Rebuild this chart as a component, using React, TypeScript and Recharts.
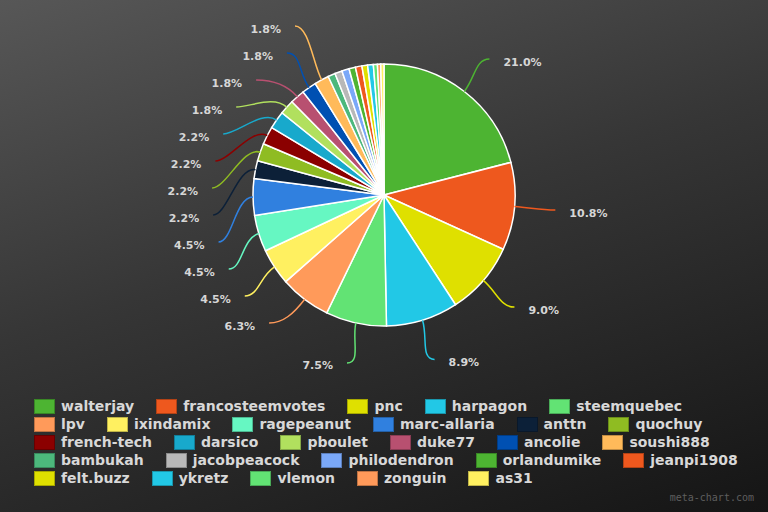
import { PieChart, Pie, Cell } from "recharts";

const names = [
  "walterjay", "francosteemvotes", "pnc", "harpagon", "steemquebec",
  "lpv", "ixindamix", "ragepeanut", "marc-allaria", "anttn", "quochuy",
  "french-tech", "darsico", "pboulet", "duke77", "ancolie", "soushi888",
  "bambukah", "jacobpeacock", "philodendron", "orlandumike", "jeanpi1908",
  "felt.buzz", "ykretz", "vlemon", "zonguin", "as31",
];

const shares = [
  21.0, 10.8, 9.0, 8.9, 7.5,
  6.3, 4.5, 4.5, 4.5, 2.2, 2.2,
  2.2, 2.2, 1.8, 1.8, 1.8, 1.8,
  0.9, 0.9, 0.9, 0.8, 0.8,
  0.7, 0.7, 0.5, 0.4, 0.4,
];

const colors = [
  "#4db432", "#ee581e", "#dfe000", "#22c8e6", "#62e374",
  "#ff9a5a", "#fff060", "#66f7c2", "#3080df", "#0c2038", "#8fbc22",
  "#8b0000", "#18a9cc", "#b1e05e", "#b85070", "#0050b2", "#ffba5a",
  "#4cb87c", "#b8b8b8", "#7aa8f8", "#4db432", "#ee581e",
  "#dfe000", "#22c8e6", "#62e374", "#ff9a5a", "#fff060",
];

const data = names.map((name, i) => ({ name, value: shares[i] }));

const CX = 384;
const CY = 195;
const R = 131;
const LR = 172; // radius where label lines end
const GAP = 27;
const MIN_Y = 26;
const rad = Math.PI / 180;

// place label endpoints, stacking the left side so they don't collide
function layoutLabels() {
  const total = shares.reduce((a, b) => a + b, 0);
  let acc = 0;
  const items: any[] = [];
  shares.forEach((v, i) => {
    const mid = ((acc + v / 2) / total) * 360;
    acc += v;
    if (v < 1.5) return;
    items.push({
      i,
      mid,
      x: CX + LR * Math.sin(mid * rad),
      y: CY - LR * Math.cos(mid * rad),
      left: mid > 180,
    });
  });
  const left = items.filter((d) => d.left).sort((a, b) => a.y - b.y);
  let clusters = left.map((d) => ({ list: [d], sum: d.y, top: Math.max(d.y, MIN_Y) }));
  let merged = true;
  while (merged) {
    merged = false;
    for (let k = 1; k < clusters.length; k++) {
      const p = clusters[k - 1];
      const c = clusters[k];
      if (p.top + p.list.length * GAP + GAP * 0.4 > c.top) {
        const list = p.list.concat(c.list);
        const sum = p.sum + c.sum;
        const top = Math.max(sum / list.length - ((list.length - 1) * GAP) / 2, MIN_Y);
        clusters.splice(k - 1, 2, { list, sum, top });
        merged = true;
        break;
      }
    }
  }
  let prev = -Infinity;
  clusters.forEach((c) => {
    c.list.forEach((d, j) => {
      let y = Math.max(c.top + j * GAP, prev + GAP);
      prev = y;
      const dy = y - CY;
      const cxEdge = CX - Math.sqrt(Math.max(LR * LR - dy * dy, 0));
      d.x = dy < 0 ? Math.min(cxEdge, CX - 89) : cxEdge;
      d.y = y;
    });
  });
  const map: Record<number, any> = {};
  items.forEach((d) => (map[d.i] = d));
  return map;
}

const labelPos = layoutLabels();

const renderLabel = (props: any) => {
  const d = labelPos[props.index];
  if (!d) return null;
  const sx = CX + R * Math.sin(d.mid * rad);
  const sy = CY - R * Math.cos(d.mid * rad);
  const k = 18;
  const c1x = CX + (R + k) * Math.sin(d.mid * rad);
  const c1y = CY - (R + k) * Math.cos(d.mid * rad);
  const dir = d.left ? -1 : 1;
  const c2x = d.x - dir * 14;
  const path = `M${sx},${sy} C${c1x},${c1y} ${c2x},${d.y} ${d.x},${d.y}`;
  return (
    <g key={`lbl-${props.index}`}>
      <path d={path} stroke={colors[d.i]} strokeWidth={1.5} fill="none" />
      <text
        x={d.x + dir * 14}
        y={d.y + 3}
        textAnchor={d.left ? "end" : "start"}
        dominantBaseline="central"
        fill="#d6d6d6"
        fontFamily="DejaVu Sans"
        fontWeight="bold"
        fontSize={11}
      >
        {shares[d.i].toFixed(1)}%
      </text>
    </g>
  );
};

export default function App() {
  return (
    <div
      style={{
        position: "fixed",
        left: 0,
        top: 0,
        width: 768,
        height: 512,
        background: "linear-gradient(162deg, #575757 0%, #363636 45%, #151515 100%)",
        overflow: "hidden",
      }}
    >
      <PieChart
        width={768}
        height={512}
        margin={{ top: 0, right: 0, bottom: 0, left: 0 }}
        style={{ position: "absolute", left: 0, top: 0 }}
      >
        <Pie
          data={data}
          dataKey="value"
          nameKey="name"
          cx={CX}
          cy={CY}
          outerRadius={R}
          startAngle={90}
          endAngle={-270}
          stroke="#ffffff"
          strokeWidth={1.5}
          label={renderLabel}
          labelLine={false}
          isAnimationActive={false}
        >
          {data.map((d, i) => (
            <Cell key={d.name} fill={colors[i]} />
          ))}
        </Pie>
      </PieChart>
      <div
        style={{
          position: "absolute",
          left: 34,
          top: 397,
          width: 734,
          display: "flex",
          flexWrap: "wrap",
          fontFamily: "DejaVu Sans",
          fontWeight: "bold",
          fontSize: 14,
          color: "#d8d8d8",
        }}
      >
        {names.map((n, i) => (
          <div
            key={n}
            style={{ display: "flex", alignItems: "center", height: 18, marginRight: 22 }}
          >
            <span
              style={{
                display: "inline-block",
                width: 21,
                height: 15,
                boxSizing: "border-box",
                border: "1px solid rgba(0,0,0,0.25)",
                background: colors[i],
                marginRight: 6,
              }}
            />
            <span style={{ lineHeight: "18px" }}>{n}</span>
          </div>
        ))}
      </div>
      <div
        style={{
          position: "absolute",
          right: 14,
          top: 492,
          fontFamily: "DejaVu Sans Mono",
          fontSize: 10,
          color: "#5e5e5e",
        }}
      >
        meta-chart.com
      </div>
    </div>
  );
}
